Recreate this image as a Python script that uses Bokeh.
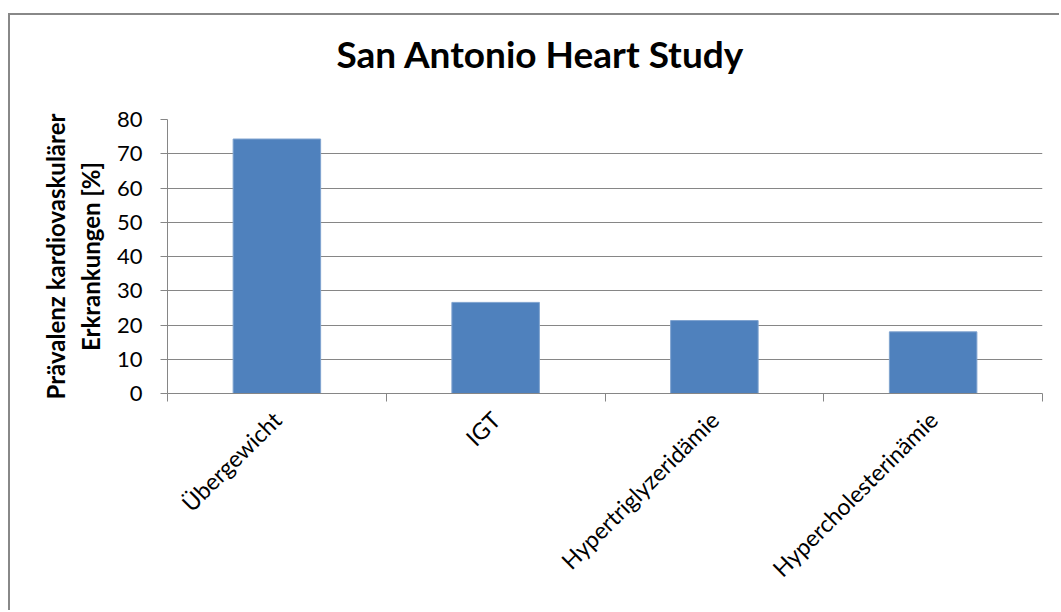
import math
from bokeh.plotting import figure
from bokeh.models import Range1d, FixedTicker, LinearAxis, Grid, Title
from bokeh.embed import file_html
from bokeh.resources import INLINE

# ---- data ----
categories = ["Übergewicht", "IGT", "Hypertriglyzeridämie", "Hypercholesterinämie"]
values = [74.3, 26.6, 21.3, 18.0]
y_ticks = [0, 10, 20, 30, 40, 50, 60, 70, 80]
title_text = "San Antonio Heart Study"
y_label = "Prävalenz kardiovaskulärer\nErkrankungen [%]"

# ---- derived positions (category slots on a numeric scale) ----
n = len(categories)
centers = [i + 0.5 for i in range(n)]
bounds = list(range(n + 1))

GRAY = "#868686"
BLUE = "#4F81BD"
FONT = "Lato"

p = figure(width=1051, height=597, output_backend="svg", toolbar_location=None,
           title=None,
           x_range=Range1d(0, n), y_range=Range1d(0, y_ticks[-1]),
           x_axis_type=None, y_axis_type=None,
           min_border_left=157, min_border_right=19,
           min_border_top=104, min_border_bottom=219)
p.styles = {"border-left": "2px solid #888888", "border-top": "2px solid #888888",
            "margin-top": "13px", "margin-left": "8px"}
p.outline_line_color = None
p.background_fill_color = "white"
p.border_fill_color = "white"

# spacer panel between frame and title (keeps the gap below the title)
p.add_layout(Title(text=" ", text_font_size="2px", standoff=40), "above")
p.add_layout(Title(text=title_text, align="left", offset=169, text_font=FONT,
                   text_font_size="37px", text_font_style="bold", text_color="black",
                   vertical_align="bottom", standoff=0), "above")

yticker = FixedTicker(ticks=y_ticks)
yaxis = LinearAxis(ticker=yticker, axis_label=y_label,
                   axis_line_color=GRAY, major_tick_line_color=GRAY,
                   major_tick_out=7, major_tick_in=0,
                   minor_tick_line_color=None,
                   major_label_text_font=FONT, major_label_text_font_size="22px",
                   major_label_text_color="black", major_label_standoff=18,
                   axis_label_text_font=FONT, axis_label_text_font_size="24px",
                   axis_label_text_font_style="bold", axis_label_text_color="black",
                   axis_label_text_line_height=1.2,
                   axis_label_standoff=9)
p.add_layout(yaxis, "left")
p.add_layout(Grid(dimension=1, ticker=yticker, grid_line_color=GRAY, grid_line_width=1))

xticker = FixedTicker(ticks=centers, minor_ticks=bounds)
xaxis = LinearAxis(ticker=xticker,
                   major_label_overrides={c: lab for c, lab in zip(centers, categories)},
                   axis_line_color=GRAY,
                   major_tick_line_color=None, major_tick_out=0, major_tick_in=0,
                   minor_tick_line_color=GRAY, minor_tick_out=8, minor_tick_in=0,
                   major_label_orientation=math.pi / 4,
                   major_label_text_font=FONT, major_label_text_font_size="23px",
                   major_label_text_color="black", major_label_standoff=14)
p.add_layout(xaxis, "below")

p.vbar(x=centers, top=values, width=0.4, fill_color=BLUE, line_color="#7fa3cf",
       line_width=1)

open("out.html", "w").write(file_html(p, INLINE))
